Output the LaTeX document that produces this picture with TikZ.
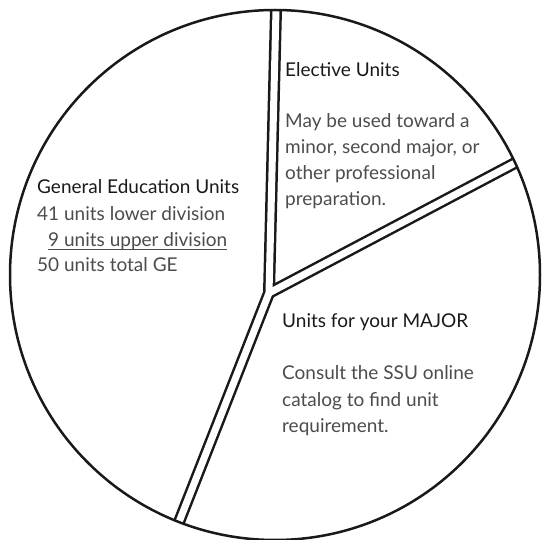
\documentclass[tikz,border=0pt]{standalone}
\usepackage{fontspec}
\setmainfont{Lato}
\begin{document}
\begin{tikzpicture}[x=1pt,y=-1pt,
  divout/.style={line width=12pt, black!90, line join=miter},
  divin/.style={line width=7pt, white, line join=miter},
  rim/.style={line width=2.5pt, black!90},
  head/.style={anchor=base west, inner sep=0pt, font=\fontsize{19}{22}\selectfont, text=black!90},
  body/.style={anchor=base west, inner sep=0pt, font=\fontsize{19}{22}\selectfont, text=black!70},
]
\useasboundingbox (0,0) rectangle (542,540);
\coordinate (c) at (275,275);
\coordinate (j) at (269,293);
\coordinate (t) at (276.25,0);
\coordinate (r) at (530,155.1);
\coordinate (b) at (175.1,532);
\begin{scope}
  \clip (c) circle [radius=265pt];
  \draw[divout] (t) -- (j) -- (b);
  \draw[divout] (j) -- (r);
  \draw[divin] (t) -- (j) -- (b);
  \draw[divin] (j) -- (r);
\end{scope}
\draw[rim] (c) circle [radius=265pt];

\node[head] (geh) at (37,194) {General Education Units};
\node[body] (ge1) at (37,221) {41 units lower division};
\node[body] (ge2) at (48,247) {9 units upper division};
\node[body] (ge3) at (37,272) {50 units total GE};
\draw[black!70, line width=0.9pt] ([yshift=-2.5pt]ge2.base west) -- ([yshift=-2.5pt]ge2.base east);

\node[head] (elh) at (285,77) {Elective Units};
\node[body] (el1) at (285,128) {May be used toward a};
\node[body] (el2) at (285,154) {minor, second major, or};
\node[body] (el3) at (285,180) {other professional};
\node[body] (el4) at (285,206) {preparation.};

\node[head] (mjh) at (282,328) {Units for your MAJOR};
\node[body] (mj1) at (282,380) {Consult the SSU online};
\node[body] (mj2) at (282,407) {catalog to find unit};
\node[body] (mj3) at (282,433) {requirement.};
\end{tikzpicture}
\end{document}
